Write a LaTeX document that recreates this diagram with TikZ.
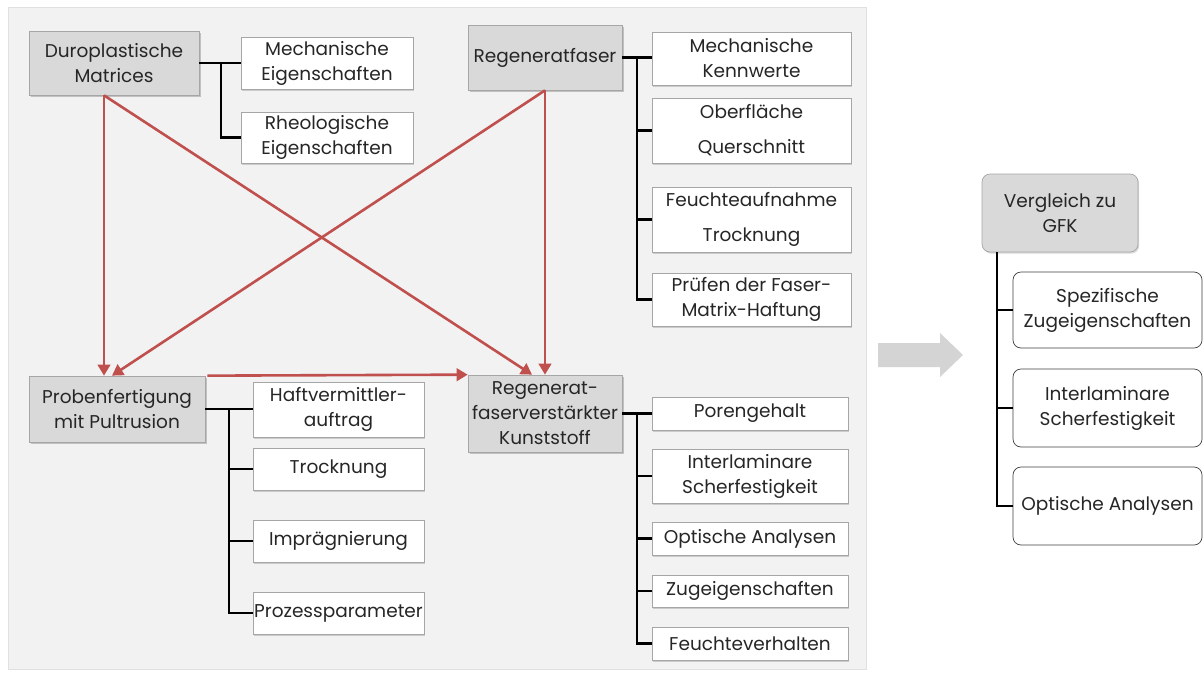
\documentclass[tikz,border=0pt]{standalone}
\usepackage{fontspec}
\setmainfont{Poppins}
\usetikzlibrary{arrows.meta,shadows}
\definecolor{panel}{HTML}{F2F2F2}
\definecolor{panelline}{HTML}{E0E0E0}
\definecolor{headfill}{HTML}{D9D9D9}
\definecolor{boxline}{HTML}{A6A6A6}
\definecolor{txt}{HTML}{262626}
\definecolor{flow}{HTML}{C0504D}
\definecolor{bigarrow}{HTML}{D4D4D4}
\tikzset{
  basebox/.style={align=center, inner sep=1pt, text=txt,
    font=\fontsize{18.5}{25}\selectfont},
  headbox/.style={basebox, fill=headfill, draw=boxline, line width=0.7pt,
    drop shadow={shadow xshift=1.5pt, shadow yshift=-1.8pt, fill=black!40, opacity=.55}},
  itembox/.style={basebox, fill=white, draw=boxline, line width=0.6pt,
    drop shadow={shadow xshift=1.2pt, shadow yshift=-1.6pt, fill=black!35, opacity=.5}},
  widelines/.style={font=\fontsize{18.5}{35}\selectfont},
  roundhead/.style={basebox, fill=headfill, draw=boxline, line width=0.7pt, rounded corners=8pt,
    drop shadow={shadow xshift=1.2pt, shadow yshift=-1.6pt, fill=black!30, opacity=.5}},
  rounditem/.style={basebox, fill=white, draw=black!75, line width=0.7pt, rounded corners=8pt},
  tree/.style={draw=black, line width=2.2pt},
  thintree/.style={draw=black, line width=1.6pt},
  flowarrow/.style={draw=flow, line width=2.6pt, -{Triangle[length=11pt,width=12.5pt]}, shorten >=0pt},
}
\begin{document}
\begin{tikzpicture}[x=1pt,y=-1pt]
\useasboundingbox (0,0) rectangle (1204,675);
\fill[white] (0,0) rectangle (1204,675);
% left panel
\filldraw[fill=panel, draw=panelline, line width=0.8pt] (8,7) rectangle (866,669);

% matrix branch
\node[headbox, minimum width=170pt, minimum height=64pt] (duro) at (114,63) {Duroplastische\\Matrices};
\node[itembox, minimum width=172pt, minimum height=52pt] (mech) at (327,63) {Mechanische\\Eigenschaften};
\node[itembox, minimum width=172pt, minimum height=51pt] (rheo) at (327,137.5) {Rheologische\\Eigenschaften};
\coordinate (tduro) at (221,63);
\draw[tree] (duro.east) -- (mech.west);
\draw[tree] (tduro) |- (rheo.west);

% fibre branch
\node[headbox, minimum width=154pt, minimum height=65pt] (regf) at (545,57.5) {Regeneratfaser};
\node[itembox, minimum width=199pt, minimum height=53pt] (mk) at (751.5,58.5) {Mechanische\\Kennwerte};
\node[itembox, widelines, minimum width=199pt, minimum height=65pt] (ob) at (751.5,130.5) {Oberfläche\\Querschnitt};
\node[itembox, widelines, minimum width=199pt, minimum height=65pt] (fe) at (751.5,219.5) {Feuchteaufnahme\\Trocknung};
\node[itembox, minimum width=199pt, minimum height=53pt] (pf) at (751.5,299.5) {Prüfen der Faser-\\Matrix-Haftung};
\coordinate (tregf) at (637,57.5);
\draw[tree] (regf.east) -- (mk.west |- regf.east);
\draw[tree] (tregf) |- (pf.west);
\draw[tree] (tregf |- ob.west) -- (ob.west);
\draw[tree] (tregf |- fe.west) -- (fe.west);

% manufacturing branch
\node[headbox, minimum width=176pt, minimum height=66pt] (probe) at (117,409) {Probenfertigung\\mit Pultrusion};
\node[itembox, minimum width=171pt, minimum height=55pt] (haft) at (338.5,409.5) {Haftvermittler-\\auftrag};
\node[itembox, minimum width=171pt, minimum height=42pt] (tro) at (338.5,469) {Trocknung};
\node[itembox, minimum width=171pt, minimum height=42pt] (imp) at (338.5,541) {Imprägnierung};
\node[itembox, minimum width=171pt, minimum height=42pt] (proz) at (338.5,613) {Prozessparameter};
\coordinate (tprobe) at (229,409);
\draw[tree] (probe.east) -- (haft.west |- probe.east);
\draw[tree] (tprobe) |- (proz.west);
\draw[tree] (tprobe |- tro.west) -- (tro.west);
\draw[tree] (tprobe |- imp.west) -- (imp.west);

% composite branch
\node[headbox, minimum width=154pt, minimum height=77pt] (rfk) at (545,413.5) {Regenerat-\\faserverstärkter\\Kunststoff};
\node[itembox, minimum width=196pt, minimum height=33pt] (por) at (750,413.5) {Porengehalt};
\node[itembox, minimum width=196pt, minimum height=54pt] (ils) at (750,476) {Interlaminare\\Scherfestigkeit};
\node[itembox, minimum width=196pt, minimum height=33pt] (opt) at (750,538.5) {Optische Analysen};
\node[itembox, minimum width=196pt, minimum height=32pt] (zug) at (750,591) {Zugeigenschaften};
\node[itembox, minimum width=196pt, minimum height=33pt] (feu) at (750,643.5) {Feuchteverhalten};
\coordinate (trfk) at (637,413.5);
\draw[tree] (rfk.east) -- (por.west);
\draw[tree] (trfk) |- (feu.west);
\draw[tree] (trfk |- ils.west) -- (ils.west);
\draw[tree] (trfk |- opt.west) -- (opt.west);
\draw[tree] (trfk |- zug.west) -- (zug.west);

% flows between the main blocks
\draw[flowarrow] ([xshift=-10pt]duro.south) -- ([xshift=-13pt]probe.north);
\draw[flowarrow] ([xshift=-10pt]duro.south) -- ([xshift=-13pt]rfk.north);
\draw[flowarrow] (regf.south) -- (rfk.north);
\draw[flowarrow] (regf.south) -- ([xshift=-5pt]probe.north);
\draw[flowarrow] ([xshift=2pt]probe.north east) -- (rfk.north west);

% transition arrow
\fill[bigarrow] (878,343) -- (940,343) -- (940,333) -- (963,355) -- (940,377) -- (940,367) -- (878,367) -- cycle;

% comparison panel
\node[roundhead, minimum width=156pt, minimum height=78pt] (vgl) at (1060,213) {Vergleich zu\\GFK};
\node[rounditem, minimum width=189pt, minimum height=76pt] (sz) at (1107.5,310) {Spezifische\\Zugeigenschaften};
\node[rounditem, minimum width=189pt, minimum height=78pt] (ils2) at (1107.5,408) {Interlaminare\\Scherfestigkeit};
\node[rounditem, minimum width=189pt, minimum height=78pt] (opt2) at (1107.5,506) {Optische Analysen};
\coordinate (tvgl) at (997,252);
\draw[thintree] (tvgl) |- (opt2.west);
\draw[thintree] (tvgl |- sz.west) -- (sz.west);
\draw[thintree] (tvgl |- ils2.west) -- (ils2.west);
\end{tikzpicture}
\end{document}
